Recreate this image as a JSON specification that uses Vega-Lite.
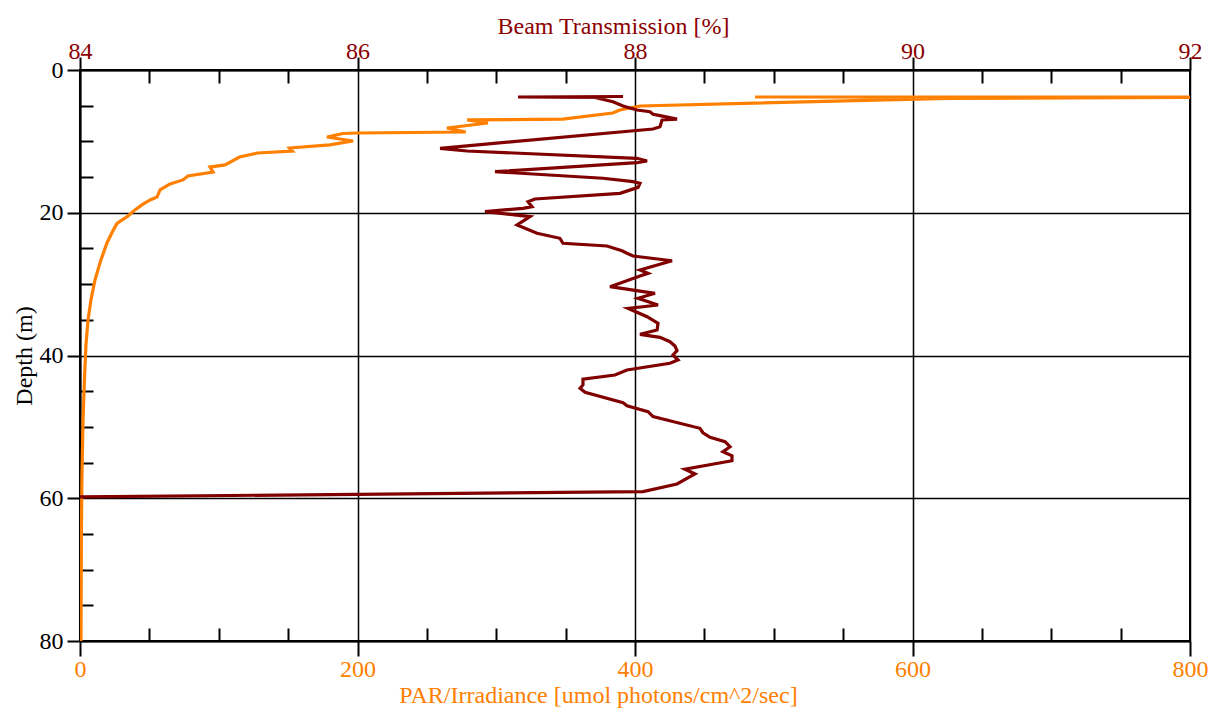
{
  "$schema": "https://vega.github.io/schema/vega-lite/v6.json",
  "width": 1110,
  "height": 571,
  "autosize": {"type": "none"},
  "padding": {"left": 80, "top": 70, "right": 30, "bottom": 71},
  "background": "white",
  "config": {
    "font": "Liberation Serif",
    "view": {"stroke": "black", "strokeWidth": 2},
    "axis": {
      "domainColor": "black",
      "domainWidth": 2,
      "tickColor": "black",
      "tickWidth": 2,
      "labelFont": "Liberation Serif",
      "titleFont": "Liberation Serif",
      "labelFontSize": 24,
      "titleFontSize": 24,
      "titleFontWeight": "normal",
      "gridColor": "black",
      "gridWidth": 1.5,
      "gridOpacity": 1,
      "labelOverlap": false,
      "labelFlush": false,
      "labelBound": false
    }
  },
  "datasets": {
    "par": [
      {"depth": 3.78, "par": 486.5},
      {"depth": 3.8, "par": 830},
      {"depth": 3.97, "par": 625.6},
      {"depth": 5.04, "par": 403.6},
      {"depth": 5.6, "par": 389},
      {"depth": 6.02, "par": 384},
      {"depth": 6.87, "par": 348},
      {"depth": 7.0, "par": 279},
      {"depth": 7.43, "par": 294},
      {"depth": 8.13, "par": 264.5},
      {"depth": 8.69, "par": 278},
      {"depth": 8.83, "par": 199.6},
      {"depth": 8.9, "par": 189.5},
      {"depth": 9.39, "par": 178},
      {"depth": 9.95, "par": 196.8},
      {"depth": 10.5, "par": 180},
      {"depth": 10.93, "par": 151},
      {"depth": 11.35, "par": 153},
      {"depth": 11.63, "par": 128},
      {"depth": 12.19, "par": 115},
      {"depth": 13.3, "par": 104.5},
      {"depth": 13.6, "par": 93.7},
      {"depth": 14.3, "par": 95.9},
      {"depth": 14.85, "par": 77.8},
      {"depth": 15.4, "par": 74.2},
      {"depth": 15.97, "par": 64.9},
      {"depth": 16.8, "par": 57.7},
      {"depth": 17.8, "par": 55.5},
      {"depth": 18.2, "par": 50.5},
      {"depth": 18.8, "par": 45.4},
      {"depth": 19.6, "par": 39.6},
      {"depth": 20.45, "par": 34.6},
      {"depth": 21.5, "par": 26.7},
      {"depth": 22.5, "par": 23.8},
      {"depth": 24.2, "par": 19.5},
      {"depth": 26.6, "par": 15.1},
      {"depth": 29.4, "par": 10.8},
      {"depth": 32.2, "par": 7.9},
      {"depth": 35.0, "par": 5.8},
      {"depth": 38.5, "par": 4.3},
      {"depth": 43.4, "par": 3.2},
      {"depth": 49.0, "par": 2.2},
      {"depth": 57.0, "par": 1.4},
      {"depth": 65.0, "par": 1.0},
      {"depth": 80.0, "par": 0.7}
    ],
    "bt": [
      {"depth": 3.71, "bt": 87.914},
      {"depth": 3.78, "bt": 87.157},
      {"depth": 3.85, "bt": 87.712},
      {"depth": 4.44, "bt": 87.841},
      {"depth": 5.04, "bt": 87.914},
      {"depth": 5.6, "bt": 88.014},
      {"depth": 5.84, "bt": 88.108},
      {"depth": 6.2, "bt": 88.13},
      {"depth": 6.4, "bt": 88.18},
      {"depth": 6.87, "bt": 88.303},
      {"depth": 7.0, "bt": 88.195},
      {"depth": 7.94, "bt": 88.18},
      {"depth": 8.27, "bt": 88.13},
      {"depth": 10.97, "bt": 86.595},
      {"depth": 11.35, "bt": 86.789},
      {"depth": 12.37, "bt": 88.014},
      {"depth": 12.75, "bt": 88.087},
      {"depth": 12.99, "bt": 88.014},
      {"depth": 14.25, "bt": 86.991},
      {"depth": 15.17, "bt": 87.769},
      {"depth": 15.65, "bt": 87.986},
      {"depth": 15.88, "bt": 88.036},
      {"depth": 16.44, "bt": 88.022},
      {"depth": 17.28, "bt": 87.892},
      {"depth": 18.07, "bt": 87.279},
      {"depth": 18.45, "bt": 87.229},
      {"depth": 19.15, "bt": 87.258},
      {"depth": 19.38, "bt": 87.193},
      {"depth": 19.85, "bt": 86.919},
      {"depth": 20.55, "bt": 87.243},
      {"depth": 21.71, "bt": 87.15},
      {"depth": 22.88, "bt": 87.294},
      {"depth": 23.58, "bt": 87.459},
      {"depth": 24.28, "bt": 87.481},
      {"depth": 24.66, "bt": 87.798},
      {"depth": 25.32, "bt": 87.906},
      {"depth": 25.68, "bt": 87.942},
      {"depth": 26.06, "bt": 87.986},
      {"depth": 26.72, "bt": 88.267},
      {"depth": 28.03, "bt": 88.036},
      {"depth": 28.48, "bt": 88.094},
      {"depth": 28.86, "bt": 88.036},
      {"depth": 30.36, "bt": 87.82},
      {"depth": 31.29, "bt": 88.144},
      {"depth": 31.99, "bt": 88.022},
      {"depth": 32.92, "bt": 88.166},
      {"depth": 33.39, "bt": 87.95},
      {"depth": 34.56, "bt": 88.087},
      {"depth": 35.49, "bt": 88.166},
      {"depth": 36.43, "bt": 88.159},
      {"depth": 37.03, "bt": 88.036},
      {"depth": 37.45, "bt": 88.18},
      {"depth": 38.07, "bt": 88.252},
      {"depth": 38.67, "bt": 88.288},
      {"depth": 39.33, "bt": 88.303},
      {"depth": 39.93, "bt": 88.274},
      {"depth": 40.63, "bt": 88.31},
      {"depth": 41.09, "bt": 88.252},
      {"depth": 42.03, "bt": 87.942},
      {"depth": 42.73, "bt": 87.856},
      {"depth": 43.33, "bt": 87.625},
      {"depth": 44.13, "bt": 87.625},
      {"depth": 44.59, "bt": 87.604},
      {"depth": 45.16, "bt": 87.64},
      {"depth": 46.61, "bt": 87.914},
      {"depth": 47.03, "bt": 87.942},
      {"depth": 47.87, "bt": 88.094},
      {"depth": 48.57, "bt": 88.13},
      {"depth": 50.2, "bt": 88.468},
      {"depth": 50.82, "bt": 88.49},
      {"depth": 51.46, "bt": 88.541},
      {"depth": 52.08, "bt": 88.649},
      {"depth": 52.78, "bt": 88.685},
      {"depth": 53.48, "bt": 88.634},
      {"depth": 54.04, "bt": 88.699},
      {"depth": 54.74, "bt": 88.699},
      {"depth": 55.94, "bt": 88.36},
      {"depth": 56.6, "bt": 88.432},
      {"depth": 58.0, "bt": 88.303},
      {"depth": 59.08, "bt": 88.058},
      {"depth": 59.17, "bt": 87.459},
      {"depth": 59.82, "bt": 84.0}
    ]
  },
  "layer": [
    {
      "data": {"name": "par"},
      "mark": {"type": "point", "opacity": 0},
      "encoding": {
        "x": {
          "field": "par", "type": "quantitative",
          "scale": {"domain": [0, 800], "nice": false, "zero": false},
          "axis": {"orient": "bottom", "values": [50,100,150,250,300,350,450,500,550,650,700,750], "tickSize": -13, "labels": false, "domain": false, "grid": false, "title": null}
        },
        "y": {
          "field": "depth", "type": "quantitative",
          "scale": {"domain": [0, 80], "reverse": true, "nice": false, "zero": false},
          "axis": {"orient": "left", "values": [5,10,15,25,30,35,45,50,55,65,70,75], "tickSize": -13, "labels": false, "domain": false, "grid": false, "title": null}
        }
      }
    },
    {
      "data": {"name": "bt"},
      "mark": {"type": "point", "opacity": 0},
      "encoding": {
        "x": {
          "field": "bt", "type": "quantitative",
          "scale": {"domain": [84, 92], "nice": false, "zero": false},
          "axis": {"orient": "top", "values": [84.5,85,85.5,86.5,87,87.5,88.5,89,89.5,90.5,91,91.5], "tickSize": -13, "labels": false, "domain": false, "grid": false, "title": null}
        },
        "y": {
          "field": "depth", "type": "quantitative",
          "scale": {"domain": [0, 80], "reverse": true, "nice": false, "zero": false},
          "axis": null
        }
      }
    },
    {
      "data": {"name": "par"},
      "mark": {"type": "line", "color": "#ff8000", "strokeWidth": 3.2, "clip": true},
      "encoding": {
        "x": {
          "field": "par", "type": "quantitative",
          "scale": {"domain": [0, 800], "nice": false, "zero": false},
          "axis": {"orient": "bottom", "values": [0,200,400,600,800], "tickSize": 15, "labelPadding": 1, "labelColor": "#ff8000", "grid": true, "title": "PAR/Irradiance [umol photons/cm^2/sec]", "titleColor": "#ff8000", "titleX": 518, "titlePadding": 2}
        },
        "y": {
          "field": "depth", "type": "quantitative",
          "scale": {"domain": [0, 80], "reverse": true, "nice": false, "zero": false},
          "axis": {"orient": "left", "values": [0,20,40,60,80], "tickSize": 13, "labelPadding": 4, "labelColor": "black", "grid": true, "title": "Depth (m)", "titleColor": "black", "titlePadding": 3}
        },
        "order": {"field": "depth", "type": "quantitative"}
      }
    },
    {
      "data": {"name": "bt"},
      "mark": {"type": "line", "color": "#800000", "strokeWidth": 3.2, "clip": true},
      "encoding": {
        "x": {
          "field": "bt", "type": "quantitative",
          "scale": {"domain": [84, 92], "nice": false, "zero": false},
          "axis": {"orient": "top", "values": [84,86,88,90,92], "tickSize": 13, "labelPadding": -6, "labelColor": "#8b0000", "grid": false, "title": "Beam Transmission [%]", "titleColor": "#8b0000", "titleX": 533, "titlePadding": 1}
        },
        "y": {
          "field": "depth", "type": "quantitative",
          "scale": {"domain": [0, 80], "reverse": true, "nice": false, "zero": false},
          "axis": null
        },
        "order": {"field": "depth", "type": "quantitative"}
      }
    }
  ],
  "resolve": {
    "scale": {"x": "independent", "y": "independent"},
    "axis": {"x": "independent", "y": "independent"}
  }
}
